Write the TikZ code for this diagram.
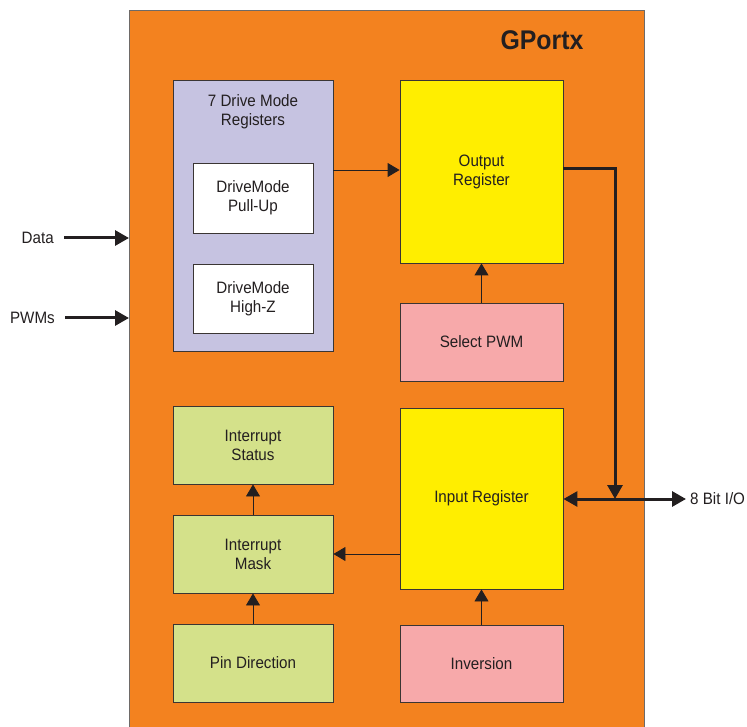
\documentclass[tikz,border=0pt]{standalone}
\usepackage{fontspec}
\setmainfont{Liberation Sans}[FakeStretch=0.92]
\usetikzlibrary{arrows.meta}
\definecolor{portorange}{HTML}{F3821F}
\definecolor{drivelav}{HTML}{C6C3E1}
\definecolor{regyellow}{HTML}{FFEE00}
\definecolor{selpink}{HTML}{F7A9AA}
\definecolor{intgreen}{HTML}{D4E18A}
\definecolor{inktext}{HTML}{231F20}
\definecolor{boxline}{HTML}{3A3533}
\definecolor{frameline}{HTML}{6E6A68}
\begin{document}
\begin{tikzpicture}[x=1pt,y=-1pt,
  box/.style={draw=boxline, line width=0.9pt, inner sep=0pt, align=center,
    font=\fontsize{16.5}{19}\selectfont, text=inktext},
  lbl/.style={inner sep=0pt, font=\fontsize{16.5}{19}\selectfont, text=inktext},
  thin/.style={draw=inktext, line width=0.9pt, -{Triangle[length=12pt,width=14pt]}},
  thick/.style={draw=inktext, line width=3pt, -{Triangle[length=14pt,width=15pt]}}
]
\useasboundingbox (0,0) rectangle (747,727);
\clip (0,0) rectangle (747,727);

% port body
\fill[portorange] (129,10) rectangle (644,740);
\draw[frameline, line width=0.9pt] (129,740) -- (129,10) -- (644,10) -- (644,740);
\node[inner sep=0pt, font=\fontsize{27}{30}\selectfont\bfseries, text=inktext] (title) at (542,40) {GPortx};

% drive mode group
\node[box, fill=drivelav, minimum width=160pt, minimum height=271pt] (drive) at (253,215.5) {};
\node[lbl, align=center] (drivetitle) at (253,111.5) {7 Drive Mode\\Registers};
\node[box, fill=white, minimum width=120pt, minimum height=70pt] (pullup) at (253,198) {DriveMode\\Pull-Up};
\node[box, fill=white, minimum width=120pt, minimum height=69pt] (highz) at (253,298.5) {DriveMode\\High-Z};

% registers
\node[box, fill=regyellow, minimum width=163pt, minimum height=183pt] (outreg) at (481.5,171.5) {Output\\Register};
\node[box, fill=selpink, minimum width=163pt, minimum height=78pt] (selpwm) at (481.5,342) {Select PWM};
\node[box, fill=regyellow, minimum width=163pt, minimum height=181pt] (inreg) at (481.5,498.5) {Input Register};
\node[box, fill=selpink, minimum width=163pt, minimum height=77pt] (inversion) at (481.5,663.5) {Inversion};

% interrupt blocks
\node[box, fill=intgreen, minimum width=160pt, minimum height=78pt] (intstatus) at (253,445) {Interrupt\\Status};
\node[box, fill=intgreen, minimum width=160pt, minimum height=78pt] (intmask) at (253,554) {Interrupt\\Mask};
\node[box, fill=intgreen, minimum width=160pt, minimum height=78pt] (pindir) at (253,663) {Pin Direction};

% internal connections
\draw[thin] (drive.east |- 0,170) -- (outreg.west |- 0,170);
\draw[thin] (selpwm.north) -- (outreg.south);
\draw[thin] (inversion.north) -- (inreg.south);
\draw[thin] (inreg.west |- intmask.east) -- (intmask.east);
\draw[thin] (intmask.north) -- (intstatus.south);
\draw[thin] (pindir.north) -- (intmask.south);

% external pins
\node[lbl, anchor=east] (data) at (54,238) {Data};
\node[lbl, anchor=east] (pwms) at (55,318) {PWMs};
\draw[thick] (data.east) ++(10,0) -- (129,238);
\draw[thick] (pwms.east) ++(10,0) -- (129,318);

\node[lbl, anchor=west] (io) at (690,499) {8 Bit I/O};
\coordinate (bus) at (615,499);
\coordinate (ioend) at (686,499);
\draw[thick] (outreg.east |- 0,169) -- (615,169) -- (bus);
\draw[thick, {Triangle[length=14pt,width=15pt]}-{Triangle[length=14pt,width=15pt]}] (inreg.east |- bus) -- (ioend);
\end{tikzpicture}
\end{document}
